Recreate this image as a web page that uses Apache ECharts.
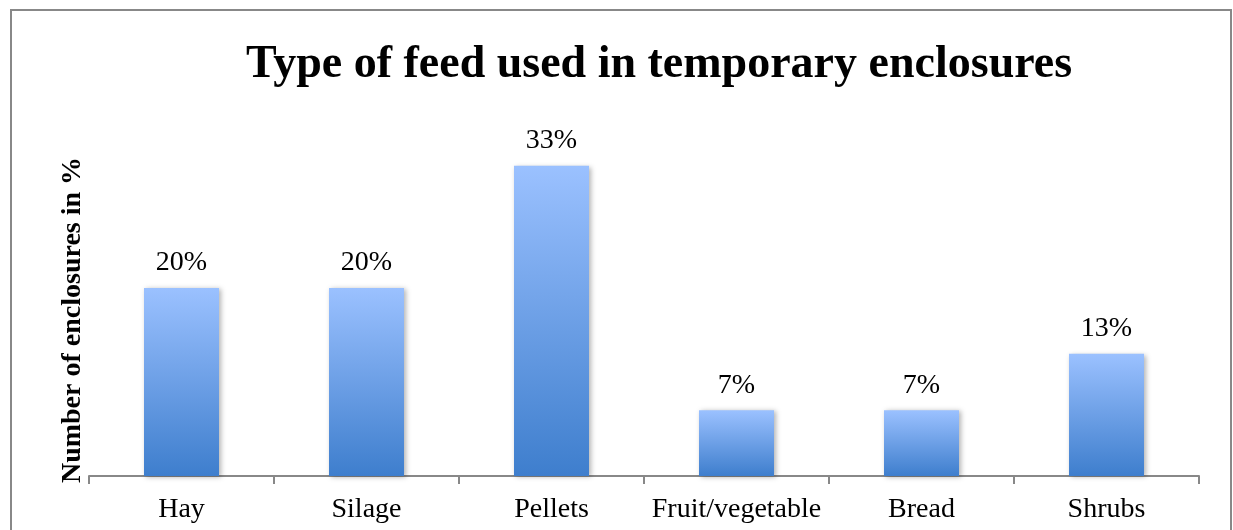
<!DOCTYPE html>
<html>
<head>
<meta charset="utf-8">
<style>
  html, body { margin: 0; padding: 0; background: #fff; }
  #chart { width: 1233px; height: 530px; }
</style>
<script src="https://cdn.jsdelivr.net/npm/echarts@6/dist/echarts.min.js"></script>
</head>
<body>
<div id="chart"></div>
<script>
// Feed types and share of temporary enclosures using each (percent)
const categories = ['Hay', 'Silage', 'Pellets', 'Fruit/vegetable', 'Bread', 'Shrubs'];
const shares = [20, 20, 33, 7, 7, 13];

const chartTitle = 'Type of feed used in temporary enclosures';
const yAxisTitle = 'Number of enclosures in %';

const serif = '"Liberation Serif", "Times New Roman", serif';

const chart = echarts.init(document.getElementById('chart'));

chart.setOption({
  animation: false,
  backgroundColor: '#ffffff',
  title: {
    text: chartTitle,
    left: 654,
    top: 37,
    textAlign: 'center',
    textStyle: { fontFamily: serif, fontWeight: 'bold', fontSize: 46, color: '#000' }
  },
  // chart-area frame
  graphic: [{
    type: 'rect',
    shape: { x: 11, y: 10, width: 1220, height: 600 },
    style: { fill: 'none', stroke: '#888888', lineWidth: 2 },
    silent: true
  }],
  grid: { left: 89, right: 34, top: 147, bottom: 54 },
  xAxis: {
    type: 'category',
    data: categories,
    axisLine: { show: true, lineStyle: { color: '#888888', width: 2 } },
    axisTick: { show: true, interval: 0, alignWithLabel: false, length: 8, lineStyle: { color: '#888888', width: 2 } },
    axisLabel: { interval: 0, fontFamily: serif, fontSize: 28, color: '#000', margin: 20 }
  },
  yAxis: {
    type: 'value',
    min: 0,
    max: 35,
    interval: 5,
    name: yAxisTitle,
    nameLocation: 'middle',
    nameRotate: 90,
    nameGap: 2,
    nameTextStyle: { fontFamily: serif, fontWeight: 'bold', fontSize: 28, color: '#000', padding: [0, 17, 0, 0] },
    axisLine: { show: false },
    axisTick: { show: false },
    axisLabel: { show: false },
    splitLine: { show: false }
  },
  series: [{
    type: 'bar',
    data: shares,
    barWidth: 75,
    itemStyle: {
      color: new echarts.graphic.LinearGradient(0, 0, 0, 1, [
        { offset: 0, color: '#9bc1ff' },
        { offset: 1, color: '#3e7ecd' }
      ]),
      shadowColor: 'rgba(0,0,0,0.3)',
      shadowBlur: 5,
      shadowOffsetX: 2,
      shadowOffsetY: 1
    },
    label: {
      show: true,
      position: 'top',
      distance: 11,
      formatter: '{c}%',
      fontFamily: serif,
      fontSize: 28,
      color: '#000'
    }
  }]
});
</script>
</body>
</html>
